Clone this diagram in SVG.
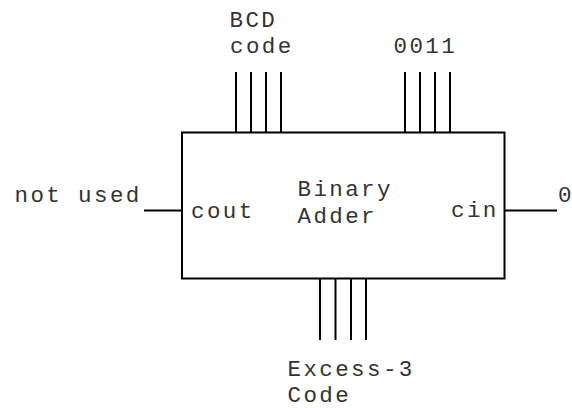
<svg xmlns="http://www.w3.org/2000/svg" width="572" height="408" viewBox="0 0 572 408">
<style>
text{font-family:"Liberation Mono","DejaVu Sans Mono",monospace;font-size:22.5px;letter-spacing:2.4px;fill:#333}
.w{stroke:#000;stroke-width:2;fill:none}
</style>
<rect width="572" height="408" fill="#fff"/>
<g id="adder">
<rect class="w" x="182" y="132.5" width="322.5" height="146"/>
<text x="297.5" y="196">Binary</text>
<text x="297.5" y="223">Adder</text>
<text x="191" y="218">cout</text>
<text x="451" y="217">cin</text>
</g>
<g id="bcd">
<text x="229.5" y="27">BCD</text>
<text x="230" y="53">code</text>
</g>
<g id="const0011">
<text x="393.5" y="53">0011</text>
</g>
<g id="notused">
<text x="14.5" y="202">not used</text>
</g>
<g id="zero">
<text x="558" y="202" style="letter-spacing:0">0</text>
</g>
<g id="excess3">
<text x="287.5" y="376">Excess-3</text>
<text x="287.5" y="402">Code</text>
</g>
<g id="connectors" class="w">
<path d="M236 72V132.5M251 72V132.5M266 72V132.5M281 72V132.5"/>
<path d="M405 72V132.5M420 72V132.5M435 72V132.5M450 72V132.5"/>
<path d="M320 278.5V340M335.5 278.5V340M351 278.5V340M366 278.5V340"/>
<path d="M144 210.5H182"/>
<path d="M504.5 210.5H557"/>
</g>
</svg>
